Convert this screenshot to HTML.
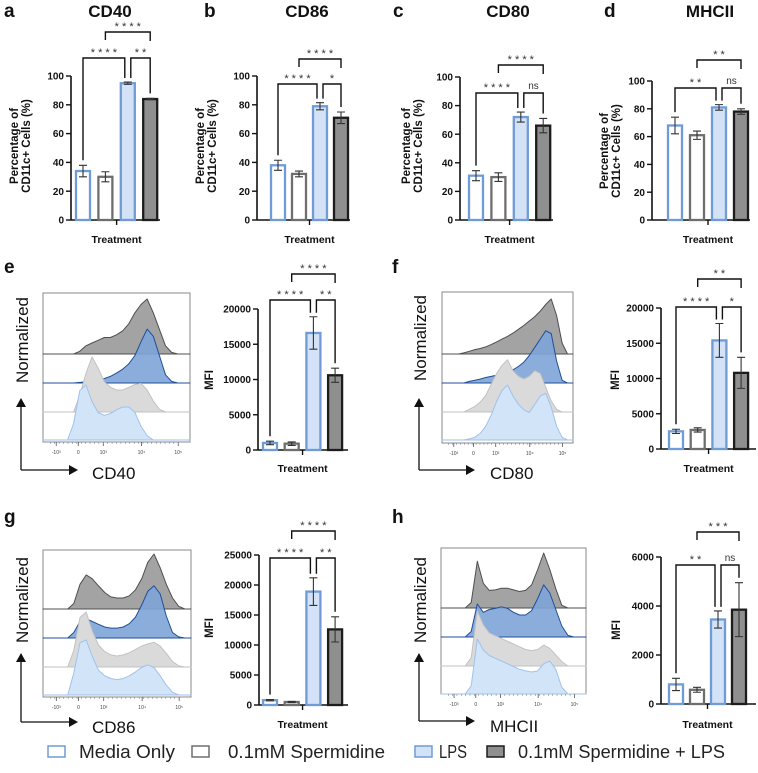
<!DOCTYPE html>
<html><head><meta charset="utf-8">
<style>
html,body{margin:0;padding:0;background:#fff;}
svg{display:block;font-family:"Liberation Sans",Arial,sans-serif;}
</style></head>
<body>
<svg id="fig" width="758" height="773" viewBox="0 0 758 773" xmlns="http://www.w3.org/2000/svg"></svg>
<script>
// ---------- bar chart data ----------
const groups = ["Media Only","0.1mM Spermidine","LPS","0.1mM Spermidine + LPS"];
const pctTicks = [0,20,40,60,80,100];
const aVals = [34,30,95,84];     const aErrs = [4,3.5,0.8,0.5];
const bVals = [38,32,79,71];     const bErrs = [3.5,2,2.5,4];
const cVals = [31,30,72,66];     const cErrs = [3.5,3,3.5,5];
const dVals = [68,61,81,78];     const dErrs = [6,3,2,2];
const eTicks = [0,5000,10000,15000,20000];
const eVals = [1000,900,16600,10600]; const eErrs = [250,250,2300,1000];
const fTicks = [0,5000,10000,15000,20000];
const fVals = [2500,2700,15400,10800]; const fErrs = [300,300,2400,2200];
const gTicks = [0,5000,10000,15000,20000,25000];
const gVals = [800,500,18900,12600]; const gErrs = [100,100,2300,2100];
const hTicks = [0,2000,4000,6000];
const hVals = [800,580,3450,3850]; const hErrs = [250,100,350,1100];
const aSig = ["****","**","****"]; const bSig = ["****","*","****"];
const cSig = ["****","ns","****"]; const dSig = ["**","ns","**"];
const eSig = ["****","**","****"]; const fSig = ["****","*","**"];
const gSig = ["****","**","****"]; const hSig = ["**","ns","***"];
// ---------- histogram profiles (relative heights, 25 samples across axis) ----------
const eDark  = [0,0,0,0,0,0,0.05,0.15,0.2,0.25,0.3,0.3,0.35,0.42,0.55,0.75,0.9,1.0,0.75,0.45,0.15,0.03,0,0,0];
const eBlue  = [0,0,0,0,0,0,0.01,0.02,0.03,0.05,0.08,0.12,0.18,0.25,0.35,0.5,0.75,0.98,0.85,0.5,0.15,0.03,0,0,0];
const eLGray = [0,0,0,0,0,0,0.3,0.7,1.0,0.8,0.55,0.45,0.4,0.4,0.45,0.5,0.52,0.4,0.2,0.05,0,0,0,0,0];
const eLBlue = [0,0,0,0,0,0.3,0.9,1.0,0.7,0.5,0.45,0.48,0.55,0.6,0.6,0.5,0.25,0.08,0,0,0,0,0,0,0];
const fDark  = [0,0,0,0,0.02,0.05,0.08,0.1,0.13,0.17,0.22,0.27,0.32,0.38,0.45,0.52,0.6,0.68,0.78,0.9,1.0,0.7,0.2,0,0];
const fBlue  = [0,0,0,0,0,0.03,0.05,0.07,0.1,0.12,0.14,0.16,0.2,0.24,0.3,0.38,0.5,0.65,0.8,0.95,0.9,0.4,0.05,0,0];
const fLGray = [0,0,0,0,0,0.05,0.1,0.18,0.3,0.5,0.7,0.85,0.95,0.75,0.65,0.6,0.65,0.75,0.7,0.45,0.2,0.05,0,0,0];
const fLBlue = [0,0,0,0,0,0.02,0.05,0.12,0.25,0.45,0.7,0.9,1.0,0.8,0.65,0.55,0.5,0.65,0.8,0.85,0.6,0.25,0.05,0,0];
const gDark  = [0,0,0,0,0,0.1,0.45,0.62,0.55,0.42,0.3,0.22,0.2,0.2,0.24,0.35,0.55,0.85,1.0,0.75,0.45,0.2,0.05,0,0];
const gBlue  = [0,0,0,0,0,0.1,0.3,0.35,0.3,0.25,0.2,0.18,0.18,0.2,0.26,0.38,0.6,0.85,0.95,0.8,0.4,0.1,0.02,0,0];
const gLGray = [0,0,0,0,0,0.3,0.9,1.0,0.65,0.4,0.28,0.22,0.2,0.22,0.26,0.32,0.38,0.42,0.45,0.38,0.25,0.1,0.02,0,0];
const gLBlue = [0,0,0,0,0,0.4,0.95,1.0,0.7,0.45,0.35,0.3,0.28,0.3,0.35,0.42,0.5,0.55,0.5,0.35,0.18,0.05,0,0,0];
const hDark  = [0,0,0,0,0,0.1,0.85,0.45,0.32,0.33,0.36,0.36,0.33,0.3,0.32,0.42,0.7,1.0,0.7,0.35,0.05,0,0,0,0];
const hBlue  = [0,0,0,0,0,0.1,0.6,0.45,0.5,0.52,0.55,0.52,0.45,0.4,0.4,0.48,0.7,0.95,0.8,0.5,0.2,0.03,0,0,0];
const hLGray = [0,0,0,0,0,0.15,1.0,0.75,0.6,0.55,0.5,0.45,0.4,0.35,0.3,0.28,0.3,0.38,0.32,0.2,0.08,0,0,0,0];
const hLBlue = [0,0,0,0,0,0.15,1.0,0.8,0.7,0.65,0.6,0.55,0.5,0.45,0.42,0.4,0.42,0.55,0.6,0.45,0.12,0,0,0,0];

const NS = "http://www.w3.org/2000/svg";
const svg = document.getElementById("fig");
function mk(tag, attrs, parent){
  const el = document.createElementNS(NS, tag);
  for (const k in attrs) el.setAttribute(k, attrs[k]);
  (parent||svg).appendChild(el);
  return el;
}
function txt(s, attrs, parent){ const t = mk("text", attrs, parent); t.textContent = s; return t; }

const fillC = ["#ffffff","#ffffff","#d3e2f6","#8f8f8f"];
const strokeC = ["#6f9bd6","#6e6e6e","#6f9bd6","#1c1c1c"];

function barPanel(p){
  const g = mk("g", {});
  
  
  const max = p.ticks[p.ticks.length-1];
  const y = v => p.y0 - v/max*(p.y0-p.yTop);
  const x = i => p.ax + p.first + i*p.step;
  const ya = mk("line", {x1:p.ax,y1:p.y0,x2:p.ax,y2:p.yTop,stroke:"#111","stroke-width":1.6}, g);
  
  
  p.ticks.forEach(t=>{
    mk("line",{x1:p.ax-5,y1:y(t),x2:p.ax,y2:y(t),stroke:"#111","stroke-width":1.4},g);
    const tl = txt(String(t),{x:p.ax-7,y:y(t)+3.6,"text-anchor":"end","font-size":10,"font-weight":"bold",fill:"#111"},g);
    
    
  });
  const xa = mk("line",{x1:p.ax,y1:p.y0,x2:p.xEnd,y2:p.y0,stroke:"#111","stroke-width":1.6},g);
  
  
  const mid = (x(1)+x(2))/2;
  mk("line",{x1:mid,y1:p.y0,x2:mid,y2:p.y0+5,stroke:"#111","stroke-width":1.4},g);
  const xt = txt("Treatment",{x:mid,y:p.tBase,"text-anchor":"middle","font-size":10.5,"font-weight":"bold",fill:"#111"},g);
  
  
  const yt = mk("text",{transform:`translate(${p.ax+p.ytOff},${p.ytY}) rotate(-90)`,"text-anchor":"middle","font-size":11.5,"font-weight":"bold",fill:"#111"},g);
  
  
  p.ytitle.forEach((s,k)=>{ const ts = mk("tspan",{x:0,dy:k===0?0:12},yt); ts.textContent=s; });
  const tops = [];
  p.vals.forEach((v,i)=>{
    const bw = 14;
    const r = mk("rect",{x:x(i)-bw/2,y:y(v),width:bw,height:p.y0-y(v),fill:fillC[i],stroke:strokeC[i],"stroke-width":2.3},g);
    
    
    const e = p.errs[i];
    const eg = mk("path",{d:`M${x(i)},${y(v+e)}V${y(v-e)}M${x(i)-4},${y(v+e)}H${x(i)+4}M${x(i)-4},${y(v-e)}H${x(i)+4}`,stroke:"#333","stroke-width":1.1,fill:"none"},g);
    
    
    tops.push(y(v+e));
  });
  const L = p.bLow, H = p.bHigh;
  const br = [
    [x(0), x(2)-3, L, tops[0]-5, tops[2]-4, p.sig[0]],
    [x(2)+3, x(3), L, tops[2]-4, tops[3]-5, p.sig[1]],
    [x(1), x(3), H, H+8, H+9, p.sig[2]]
  ];
  br.forEach(b=>{
    const bp = mk("path",{d:`M${b[0]},${b[3]}V${b[2]}H${b[1]}V${b[4]}`,stroke:"#111","stroke-width":1.4,fill:"none"},g);
    
    
    const isNs = b[5]==="ns";
    const label = isNs ? "ns" : b[5].split("").join(" ");
    const st = txt(label,{x:(b[0]+b[1])/2,y:isNs? b[2]-4 : b[2]-2,"text-anchor":"middle","font-size":isNs?10:11,fill:"#333"},g);
    
    
  });
}

function panelLetter(letter, lx, ly){
  const l = txt(letter,{x:lx,y:ly,"font-size":19,"font-weight":"bold",fill:"#111"});
  
  
}
function panelTitle(title, tx){
  const t = txt(title,{x:tx,y:17,"text-anchor":"middle","font-size":17,"font-weight":"bold",fill:"#111"});
  
  
}
panelLetter("a",4,17); panelTitle("CD40",110);
panelLetter("b",204,17); panelTitle("CD86",307);
panelLetter("c",393,17); panelTitle("CD80",508);
panelLetter("d",604,17); panelTitle("MHCII",710);
panelLetter("e",4,273); panelLetter("f",392,273);
panelLetter("g",4,523); panelLetter("h",392,523);

const pctTitle = ["Percentage of","CD11c+ Cells (%)"];
barPanel({name:"cd40-percent",ax:71,y0:220,yTop:76,ticks:pctTicks,first:12,step:22.4,xEnd:160,vals:aVals,errs:aErrs,sig:aSig,bLow:58,bHigh:32,ytOff:-53,ytY:146,ytitle:pctTitle,tBase:243});
barPanel({name:"cd86-percent",ax:257,y0:220,yTop:76,ticks:pctTicks,first:21,step:21,xEnd:350,vals:bVals,errs:bErrs,sig:bSig,bLow:84,bHigh:59,ytOff:-53,ytY:146,ytitle:pctTitle,tBase:243});
barPanel({name:"cd80-percent",ax:460,y0:220,yTop:77,ticks:pctTicks,first:16,step:22.4,xEnd:553,vals:cVals,errs:cErrs,sig:cSig,bLow:93,bHigh:65,ytOff:-50,ytY:146,ytitle:pctTitle,tBase:243});
barPanel({name:"mhcii-percent",ax:652,y0:220,yTop:81,ticks:pctTicks,first:23,step:22,xEnd:750,vals:dVals,errs:dErrs,sig:dSig,bLow:88,bHigh:60,ytOff:-44,ytY:151,ytitle:pctTitle,tBase:243});

barPanel({name:"cd40-mfi",ax:258,y0:450,yTop:309,ticks:eTicks,first:12,step:21.7,xEnd:348,vals:eVals,errs:eErrs,sig:eSig,bLow:300,bHigh:274,ytOff:-45,ytY:380,ytitle:["MFI"],tBase:472});
barPanel({name:"cd80-mfi",ax:661,y0:449,yTop:308,ticks:fTicks,first:15,step:21.7,xEnd:756,vals:fVals,errs:fErrs,sig:fSig,bLow:307,bHigh:279,ytOff:-42,ytY:380,ytitle:["MFI"],tBase:472});
barPanel({name:"cd86-mfi",ax:259,y0:705,yTop:555,ticks:gTicks,first:11,step:21.7,xEnd:348,vals:gVals,errs:gErrs,sig:gSig,bLow:558,bHigh:531,ytOff:-46,ytY:628,ytitle:["MFI"],tBase:728});
barPanel({name:"mhcii-mfi",ax:661,y0:704,yTop:557,ticks:hTicks,first:15,step:21,xEnd:756,vals:hVals,errs:hErrs,sig:hSig,bLow:565,bHigh:532,ytOff:-41,ytY:630,ytitle:["MFI"],tBase:728});

const histFill = ["#a3a3a3","#7ea4d8","#dadada","#d2e4f8"];
const histLine = ["#4f4f4f","#1f4f98","#c2c2c2","#9fc2ec"];

function histPanel(p){
  const g = mk("g",{});
  
  
  const bx = mk("rect",{x:p.x1,y:p.y1,width:p.x2-p.x1,height:p.y2-p.y1,fill:"#fff",stroke:"#8a8a8a","stroke-width":1},g);
  
  
  const n = p.rows[0].length;
  const xs = i => p.x1 + i/(n-1)*(p.x2-p.x1);
  p.rows.forEach((row,r)=>{
    const base = p.bases[r];
    mk("line",{x1:p.x1,y1:base,x2:p.x2,y2:base,stroke:"#c8c8c8","stroke-width":0.8},g);
    let d = `M${xs(0)},${base}`;
    row.forEach((v,i)=>{ d += `L${xs(i).toFixed(1)},${(base - v*p.amp).toFixed(1)}`; });
    d += `L${xs(n-1)},${base}Z`;
    const a = mk("path",{d:d,fill:histFill[r],"fill-opacity":r===1?0.9:1,stroke:histLine[r],"stroke-width":1,"stroke-linejoin":"round"},g);
    
    
  });
  const tl = ["-10³","0","10³","10⁴","10⁵"];
  const tf = [0.09,0.24,0.41,0.67,0.92];
  tl.forEach((s,k)=>{
    const xx = p.x1 + tf[k]*(p.x2-p.x1);
    mk("line",{x1:xx,y1:p.y2,x2:xx,y2:p.y2+4,stroke:"#555","stroke-width":0.8},g);
    const t = txt(s,{x:xx,y:p.y2+12,"text-anchor":"middle","font-size":5,fill:"#444"},g);
    
    
  });
  for (let k=0;k<30;k++){
    const xx = p.x1 + (0.05 + k*0.03)*(p.x2-p.x1);
    mk("line",{x1:xx,y1:p.y2,x2:xx,y2:p.y2+2,stroke:"#777","stroke-width":0.5},g);
  }
  const ar = mk("path",{d:`M${p.ax},${p.ay}V${p.atop+8}M${p.ax},${p.ay}H${p.aright-8}`,stroke:"#111","stroke-width":1.3,fill:"none"},g);
  
  
  mk("path",{d:`M${p.ax-5},${p.atop+9}L${p.ax},${p.atop}L${p.ax+5},${p.atop+9}Z`,fill:"#111"},g);
  mk("path",{d:`M${p.aright-9},${p.ay-5}L${p.aright},${p.ay}L${p.aright-9},${p.ay+5}Z`,fill:"#111"},g);
  const nt = txt("Normalized",{transform:`translate(${p.nx},${p.ny}) rotate(-90)`,"text-anchor":"middle","font-size":17,fill:"#111"},g);
  
  
  const mt = txt(p.marker,{x:p.mx,y:p.my,"font-size":17,fill:"#111"},g);
  
  
}
histPanel({name:"cd40",x1:43,x2:190,y1:293,y2:442,bases:[354,383,412,440],amp:55,rows:[eDark,eBlue,eLGray,eLBlue],ax:21,ay:470,atop:398,aright:78,nx:28,ny:340,marker:"CD40",mx:92,my:479});
histPanel({name:"cd80",x1:442,x2:573,y1:292,y2:443,bases:[354,383,412,440],amp:55,rows:[fDark,fBlue,fLGray,fLBlue],ax:419,ay:470,atop:398,aright:475,nx:426,ny:338,marker:"CD80",mx:490,my:479});
histPanel({name:"cd86",x1:43,x2:191,y1:550,y2:697,bases:[609,638,667,695],amp:55,rows:[gDark,gBlue,gLGray,gLBlue],ax:21,ay:722,atop:653,aright:78,nx:28,ny:600,marker:"CD86",mx:92,my:733});
histPanel({name:"mhcii",x1:441,x2:586,y1:548,y2:694,bases:[608,637,666,694],amp:55,rows:[hDark,hBlue,hLGray,hLBlue],ax:419,ay:721,atop:653,aright:475,nx:426,ny:600,marker:"MHCII",mx:490,my:732});

// legend
const legX = [48,192,415,487];
const legTX = [79,228,439,518];
const legW = [96,157,28,207];
groups.forEach((name,i)=>{
  const r = mk("rect",{x:legX[i],y:746,width:17,height:11,fill:fillC[i],stroke:strokeC[i],"stroke-width":1.5});
  
  
  const t = txt(name,{x:legTX[i],y:758,"font-size":18,fill:"#222",textLength:legW[i],lengthAdjust:"spacingAndGlyphs"});
  
  
});
</script>
</body></html>
